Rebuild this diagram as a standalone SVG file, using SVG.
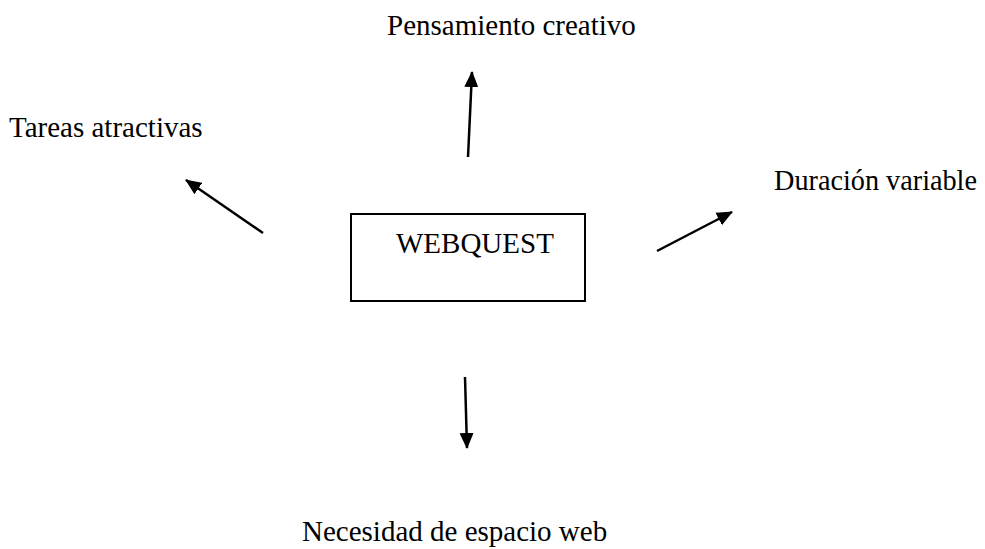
<svg xmlns="http://www.w3.org/2000/svg" width="985" height="549" viewBox="0 0 985 549">
<style>
.t{font-family:'Liberation Serif','Times New Roman',Times,serif;font-size:29px;fill:#000}
.box{fill:#fff;stroke:#000;stroke-width:2}
.c{stroke:#000;stroke-width:2.5;fill:none;marker-end:url(#ah)}
</style>
<defs>
<marker id="ah" markerUnits="userSpaceOnUse" markerWidth="16" markerHeight="16" viewBox="0 0 16 16" refX="15" refY="8" orient="auto">
<path d="M0,1 L16,8 L0,15 Z" fill="#000"/>
</marker>
</defs>
<rect width="985" height="549" fill="#fff"/>
<g id="center"><rect class="box" x="351" y="214" width="234" height="87"/><text class="t" x="396" y="253">WEBQUEST</text></g>
<g id="n-top"><text class="t" x="387" y="35">Pensamiento creativo</text></g>
<g id="n-left"><text class="t" x="9" y="137">Tareas atractivas</text></g>
<g id="n-right"><text class="t" x="774" y="190" textLength="203" lengthAdjust="spacingAndGlyphs">Duración variable</text></g>
<g id="n-bottom"><text class="t" x="302" y="541">Necesidad de espacio web</text></g>
<g id="connectors">
<line class="c" x1="468" y1="157" x2="472" y2="72"/>
<line class="c" x1="263" y1="233" x2="186" y2="180"/>
<line class="c" x1="657" y1="251" x2="732" y2="212"/>
<line class="c" x1="465" y1="377" x2="467" y2="448"/>
</g>
</svg>
